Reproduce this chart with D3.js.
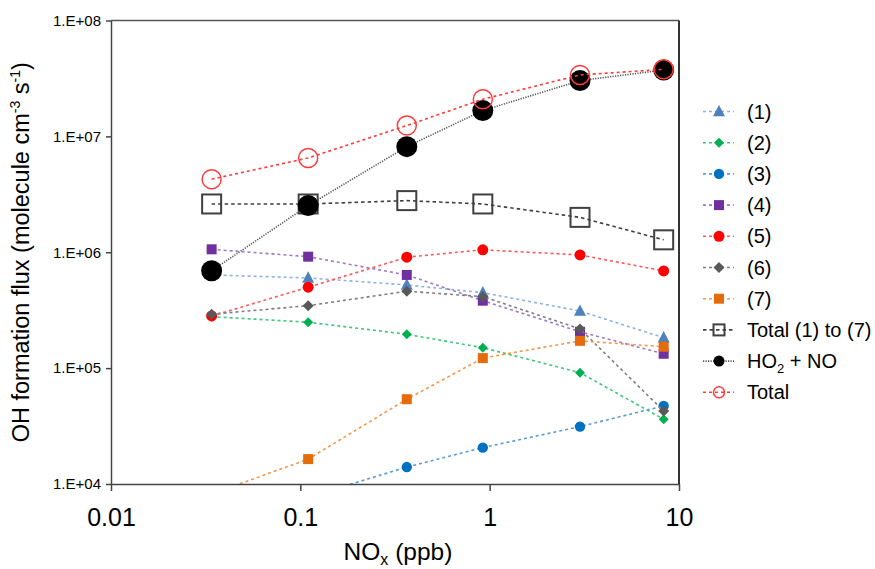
<!DOCTYPE html>
<html>
<head>
<meta charset="utf-8">
<script src="https://cdn.jsdelivr.net/npm/d3@7"></script>
<style>
  html, body { margin: 0; padding: 0; background: #fff; }
  svg { display: block; }
  text { font-family: Arial, "Liberation Sans", sans-serif; fill: #000; }
</style>
</head>
<body>
<svg id="chart" width="875" height="569"></svg>
<script>
// ---------------- DATA ----------------
const noxPpb = [0.034, 0.11, 0.365, 0.92, 3.0, 8.3];

const s1 = [6.37e5, 6.0e5, 5.22e5, 4.48e5, 3.11e5, 1.83e5];
const s2 = [2.78e5, 2.49e5, 1.96e5, 1.50e5, 9.14e4, 3.62e4];
const s3 = [4.5e3, 7.7e3, 1.40e4, 2.06e4, 3.13e4, 4.72e4];
const s4 = [1.06e6, 9.16e5, 6.37e5, 3.82e5, 2.06e5, 1.33e5];
const s5 = [2.82e5, 4.99e5, 9.06e5, 1.05e6, 9.48e5, 6.90e5];
const s6 = [2.92e5, 3.46e5, 4.61e5, 4.14e5, 2.18e5, 4.27e4];
const s7 = [8.2e3, 1.64e4, 5.39e4, 1.22e5, 1.72e5, 1.53e5];
const total1to7 = [2.61e6, 2.61e6, 2.79e6, 2.61e6, 2.0e6, 1.28e6];
const ho2no = [6.93e5, 2.53e6, 8.15e6, 1.67e7, 3.03e7, 3.74e7];
const totalAll = [4.27e6, 6.51e6, 1.24e7, 2.09e7, 3.39e7, 3.79e7];

const seriesNames = ["(1)", "(2)", "(3)", "(4)", "(5)", "(6)", "(7)", "Total (1) to (7)", "HO2 + NO", "Total"];
const seriesValues = [s1, s2, s3, s4, s5, s6, s7, total1to7, ho2no, totalAll];

const xTickValues = [0.01, 0.1, 1, 10];
const xTickLabels = ["0.01", "0.1", "1", "10"];
const yTickValues = [1e4, 1e5, 1e6, 1e7, 1e8];
const yTickLabels = ["1.E+04", "1.E+05", "1.E+06", "1.E+07", "1.E+08"];

// ---------------- STYLES ----------------
const styles = [
  {shape: "triangle", fill: "#4f81bd", stroke: "none", line: "#8db3e2", dash: "3,3", size: 6},
  {shape: "diamond",  fill: "#00b050", stroke: "none", line: "#3cc878", dash: "3,3", size: 5},
  {shape: "circle",   fill: "#0070c0", stroke: "none", line: "#5b9bd5", dash: "3,3", size: 5.2},
  {shape: "square",   fill: "#7030a0", stroke: "none", line: "#a078c8", dash: "3,3", size: 10},
  {shape: "circle",   fill: "#ff0000", stroke: "none", line: "#ff5a5a", dash: "3,3", size: 5.5},
  {shape: "diamond",  fill: "#595959", stroke: "none", line: "#7f7f7f", dash: "3,3", size: 5.5},
  {shape: "square",   fill: "#e46c0a", stroke: "none", line: "#f79646", dash: "3,3", size: 10},
  {shape: "square",   fill: "none", stroke: "#404040", line: "#404040", dash: "3.5,3", size: 19, sw: 2, lsize: 11},
  {shape: "circle",   fill: "#000000", stroke: "none", line: "#555555", dash: "1.2,1.3", size: 10.5, lsize: 5.5},
  {shape: "circle",   fill: "none", stroke: "#ff3b3b", line: "#ff3b3b", dash: "3,3", size: 9.5, sw: 1.5, lsize: 5.5}
];

// ---------------- LAYOUT ----------------
const svg = d3.select("#chart");
const pL = 111, pR = 679, pT = 20.5, pB = 484;

const x = d3.scaleLog().domain([0.01, 10]).range([pL, pR]);
const y = d3.scaleLog().domain([1e4, 1e8]).range([pB, pT]);

svg.append("defs").append("clipPath").attr("id", "plotclip")
  .append("rect").attr("x", pL).attr("y", pT)
  .attr("width", pR - pL).attr("height", pB - pT);

function drawMarker(g, st, cx, cy, sz) {
  const sw = st.sw || 0;
  if (st.shape === "circle") {
    g.append("circle").attr("cx", cx).attr("cy", cy).attr("r", sz)
      .attr("fill", st.fill).attr("stroke", st.stroke).attr("stroke-width", sw);
  } else if (st.shape === "square") {
    g.append("rect").attr("x", cx - sz / 2).attr("y", cy - sz / 2)
      .attr("width", sz).attr("height", sz)
      .attr("fill", st.fill).attr("stroke", st.stroke).attr("stroke-width", sw);
  } else if (st.shape === "diamond") {
    g.append("path").attr("d", `M${cx},${cy - sz}L${cx + sz},${cy}L${cx},${cy + sz}L${cx - sz},${cy}Z`)
      .attr("fill", st.fill);
  } else if (st.shape === "triangle") {
    g.append("path").attr("d", `M${cx},${cy - sz * 1.1}L${cx + sz},${cy + sz * 0.8}L${cx - sz},${cy + sz * 0.8}Z`)
      .attr("fill", st.fill);
  }
}

// ---------------- SERIES ----------------
const plot = svg.append("g").attr("clip-path", "url(#plotclip)");
const lineGen = d3.line().x(d => x(d[0])).y(d => y(d[1]));

seriesValues.forEach((vals, i) => {
  const st = styles[i];
  const pts = vals.map((v, j) => [noxPpb[j], v]);
  const g = plot.append("g");
  g.append("path").attr("d", lineGen(pts))
    .attr("fill", "none").attr("stroke", st.line)
    .attr("stroke-width", 1.6).attr("stroke-dasharray", st.dash);
  pts.forEach(p => drawMarker(g, st, x(p[0]), y(p[1]), st.size));
});

// ---------------- FRAME & AXES ----------------
svg.append("line").attr("x1", pL).attr("x2", pR).attr("y1", pT).attr("y2", pT)
  .attr("stroke", "#555").attr("stroke-width", 1.5);
svg.append("line").attr("x1", pR).attr("x2", pR).attr("y1", pT).attr("y2", pB)
  .attr("stroke", "#333").attr("stroke-width", 2);

const yAxis = svg.append("g").attr("transform", `translate(${pL},0)`)
  .call(d3.axisLeft(y).tickValues(yTickValues)
    .tickFormat((d, i) => yTickLabels[i]).tickSize(5).tickSizeOuter(0));
const xAxis = svg.append("g").attr("transform", `translate(0,${pB})`)
  .call(d3.axisBottom(x).tickValues(xTickValues)
    .tickFormat((d, i) => xTickLabels[i]).tickSize(7).tickSizeOuter(0));

[xAxis, yAxis].forEach(a => {
  a.select(".domain").attr("stroke", "#444").attr("stroke-width", 1.5);
  a.selectAll(".tick line").attr("stroke", "#444").attr("stroke-width", 1.5);
});
yAxis.selectAll(".tick text").attr("font-size", 15).attr("fill", "#000")
  .attr("font-family", "Arial, 'Liberation Sans', sans-serif").attr("x", -10);
xAxis.selectAll(".tick text").attr("font-size", 25).attr("fill", "#000")
  .attr("font-family", "Arial, 'Liberation Sans', sans-serif").attr("y", 24);

// x title
const xt = svg.append("text").attr("x", 398).attr("y", 560)
  .attr("text-anchor", "middle").attr("font-size", 24.5);
xt.append("tspan").text("NO");
xt.append("tspan").text("x").attr("font-size", 16).attr("dy", 5);
xt.append("tspan").text(" (ppb)").attr("dy", -5);

// y title
const yt = svg.append("text").attr("transform", `translate(29,${(pT + pB) / 2}) rotate(-90)`)
  .attr("text-anchor", "middle").attr("font-size", 23.5);
yt.append("tspan").text("OH formation flux (molecule cm");
yt.append("tspan").text("-3").attr("font-size", 14).attr("dy", -9);
yt.append("tspan").text(" s").attr("dy", 9);
yt.append("tspan").text("-1").attr("font-size", 14).attr("dy", -9);
yt.append("tspan").text(")").attr("dy", 9);

// ---------------- LEGEND ----------------
const legend = svg.append("g");
const legY0 = 111.5, legStep = 31.2;
seriesNames.forEach((name, i) => {
  const st = styles[i];
  const ly = legY0 + i * legStep;
  legend.append("line").attr("x1", 703).attr("x2", 734).attr("y1", ly).attr("y2", ly)
    .attr("stroke", st.line).attr("stroke-width", 1.6).attr("stroke-dasharray", st.dash);
  drawMarker(legend, st, 719, ly, st.lsize || st.size);
  const t = legend.append("text").attr("x", 747).attr("y", ly + 7).attr("font-size", 20);
  if (name === "HO2 + NO") {
    t.append("tspan").text("HO");
    t.append("tspan").text("2").attr("font-size", 13).attr("dy", 5);
    t.append("tspan").text(" + NO").attr("dy", -5);
  } else {
    t.text(name);
  }
});
</script>
</body>
</html>
